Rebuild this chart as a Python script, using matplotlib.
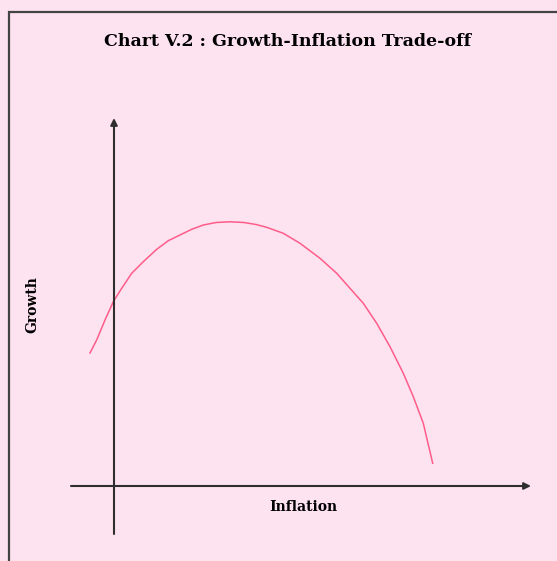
import matplotlib
matplotlib.use('Agg')
from matplotlib import pyplot as plt
from matplotlib.patches import Rectangle

# schematic curve (arbitrary units, origin at the axes crossing)
inflation = [-2.4, -1.73, -0.9, -0.07, 0.77, 1.77, 2.93, 4.27, 5.43, 6.6, 7.77,
             8.93, 10.2, 11.6, 13.0, 14.2, 15.27, 16.93, 18.6, 20.6, 22.27,
             23.6, 24.93, 26.27, 27.6, 28.93, 29.93, 30.93, 31.87]
growth = [13.3, 14.6, 16.6, 18.43, 19.77, 21.27, 22.43, 23.67, 24.53, 25.1, 25.67,
          26.1, 26.35, 26.42, 26.35, 26.15, 25.87, 25.27, 24.27, 22.77, 21.27,
          19.77, 18.27, 16.27, 13.93, 11.27, 8.93, 6.27, 2.27]

TITLE = 'Chart V.2 : Growth-Inflation Trade-off'
XLABEL = 'Inflation'
YLABEL = 'Growth'

BG = '#fde3f0'
CURVE = '#ff5c8a'
AXCOL = '#2e2e2e'


def main():
    fig = plt.figure(figsize=(5.57, 5.61), dpi=100)
    fig.patch.set_facecolor(BG)

    # frame: only left and top edges are visible in the picture
    fig.add_artist(Rectangle((9 / 557, -0.1), 1.2, 1.1 - 12 / 561,
                             transform=fig.transFigure, fill=False,
                             edgecolor='#444444', linewidth=1.6))

    ax = fig.add_axes([0, 0, 1, 1])
    ax.set_xlim(-11.4, 44.3)
    ax.set_ylim(-7.5, 48.6)
    ax.axis('off')
    ax.patch.set_alpha(0)

    # axes with arrows
    ax.annotate('', xy=(41.7, 0), xytext=(-4.3, 0),
                arrowprops=dict(arrowstyle='-|>', color=AXCOL, lw=1.5,
                                mutation_scale=10, shrinkA=0, shrinkB=0))
    ax.annotate('', xy=(0, 36.8), xytext=(0, -4.8),
                arrowprops=dict(arrowstyle='-|>', color=AXCOL, lw=1.5,
                                mutation_scale=10, shrinkA=0, shrinkB=0))

    ax.plot(inflation, growth, color=CURVE, lw=1.1)

    fig.text(288 / 557, 1 - 42 / 561, TITLE, ha='center', va='center',
             family='DejaVu Serif', weight='bold', fontsize=12.5)
    fig.text(303 / 557, 1 - 507 / 561, XLABEL, ha='center', va='center',
             family='DejaVu Serif', weight='bold', fontsize=10)
    fig.text(32 / 557, 1 - 305 / 561, YLABEL, ha='center', va='center',
             rotation=90, family='DejaVu Serif', weight='bold', fontsize=10)

    fig.savefig('out.png', dpi=100, facecolor=BG)


if __name__ == '__main__':
    main()
